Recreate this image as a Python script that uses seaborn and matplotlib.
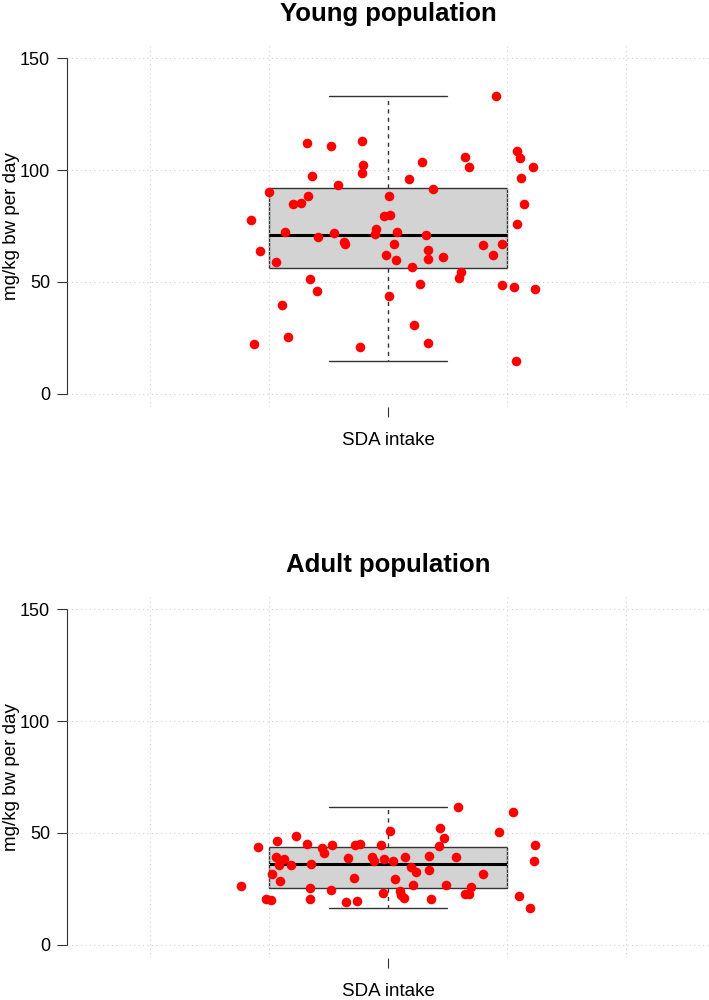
import numpy as np
import matplotlib
matplotlib.use('Agg')
import matplotlib.pyplot as plt
import seaborn as sns
from matplotlib.ticker import FixedLocator

# SDA intake (mg/kg bw per day), young population, with horizontal jitter
young_intake = [133.0, 112.1, 110.7, 113.1, 108.6, 105.6, 106.1, 103.7, 102.5, 98.7,
                101.6, 101.5, 97.2, 96.6, 96.0, 93.2, 91.5, 90.0, 88.4, 88.5,
                84.7, 85.3, 84.7, 79.3, 79.8, 77.5, 75.7, 73.7, 72.5, 71.3,
                72.0, 72.2, 71.0, 70.2, 68.0, 67.0, 67.0, 66.5, 67.1, 64.0,
                64.3, 61.9, 61.9, 60.4, 61.0, 59.8, 58.8, 56.8, 54.3, 51.8,
                51.5, 49.1, 48.4, 47.9, 46.7, 46.0, 43.5, 39.6, 30.9, 25.2,
                22.0, 22.6, 20.7, 14.4]
young_jitter = [0.181, -0.136, -0.096, -0.043, 0.217, 0.222, 0.130, 0.058, -0.042, -0.043,
                0.137, 0.244, -0.128, 0.224, 0.036, -0.084, 0.075, -0.200, -0.134, 0.001,
                -0.159, -0.146, 0.229, -0.006, 0.004, -0.231, 0.217, -0.020, -0.174, -0.022,
                -0.091, 0.015, 0.064, -0.118, -0.074, -0.072, 0.010, 0.159, 0.191, -0.215,
                0.068, 0.176, -0.004, 0.067, 0.092, 0.013, -0.188, 0.041, 0.123, 0.120,
                -0.132, 0.053, 0.192, 0.212, 0.248, -0.119, 0.002, -0.178, 0.044, -0.169,
                -0.225, 0.068, -0.047, 0.216]

# adult population
adult_intake = [61.7, 59.5, 52.1, 50.9, 50.4, 47.8, 48.8, 46.4, 43.6, 44.9,
                43.3, 44.6, 44.6, 44.8, 44.6, 43.9, 44.6, 40.9, 39.2, 38.4,
                38.8, 39.0, 37.2, 38.5, 39.2, 39.6, 39.2, 37.6, 37.5, 35.7,
                35.6, 36.0, 34.8, 32.7, 33.5, 31.6, 31.7, 29.8, 28.4, 29.3,
                26.3, 26.6, 26.6, 25.3, 24.6, 25.7, 22.9, 23.8, 22.0, 20.7,
                22.6, 22.5, 21.7, 20.5, 20.1, 20.4, 19.1, 19.6, 20.4, 16.2]
adult_jitter = [0.117, 0.211, 0.087, 0.003, 0.186, 0.094, -0.155, -0.187, -0.218, -0.137,
                -0.111, -0.094, -0.056, -0.047, -0.011, 0.085, 0.247, -0.108, -0.189, -0.175,
                -0.068, -0.027, -0.024, -0.007, 0.029, 0.069, 0.114, 0.245, 0.008, -0.184,
                -0.164, -0.130, 0.039, 0.047, 0.069, -0.195, 0.159, -0.057, -0.182, 0.011,
                -0.247, 0.042, 0.098, -0.131, -0.096, 0.140, -0.008, 0.020, 0.022, 0.027,
                0.129, 0.136, 0.221, -0.205, -0.197, -0.131, -0.070, -0.052, 0.072, 0.239]

panel_titles = ['Young population', 'Adult population']
y_ticks = [0, 50, 100, 150]
grid_x = [-0.4, -0.2, 0.0, 0.2, 0.4]

sns.set_style('white')
plt.rcParams['font.family'] = ['Liberation Sans', 'DejaVu Sans']
plt.rcParams['text.color'] = 'black'
plt.rcParams['axes.labelcolor'] = 'black'
plt.rcParams['xtick.color'] = 'black'
plt.rcParams['ytick.color'] = 'black'

fig = plt.figure(figsize=(7.09, 10), dpi=100)
ax_top = fig.add_axes([0.0945, 0.593, 0.9055, 0.362])
ax_bot = fig.add_axes([0.0945, 0.042, 0.9055, 0.362])


def draw_panel(ax, intake, jitter, title):
    sns.boxplot(y=intake, ax=ax, width=0.4, color='lightgray', saturation=1,
                linecolor='#333333', linewidth=1, whis=np.inf, fliersize=0,
                medianprops=dict(color='black', linewidth=2.2),
                whiskerprops=dict(linestyle=(0, (3, 3))))
    sns.scatterplot(x=jitter, y=intake, ax=ax, color='red', s=48,
                    linewidth=0, zorder=3)

    ax.set_xlim(-0.54, 0.54)
    ax.set_ylim(-6, 156)
    ax.set_yticks(y_ticks)
    ax.set_xticks([0])
    ax.set_xticklabels([''])
    ax.xaxis.set_minor_locator(FixedLocator(grid_x))

    ax.set_axisbelow(False)
    ax.grid(True, axis='y', which='major', color='lightgray', linestyle=(0, (1, 3)), linewidth=0.8)
    ax.grid(True, axis='x', which='minor', color='lightgray', linestyle=(0, (1, 3)), linewidth=0.8)
    ax.grid(False, axis='x', which='major')

    ax.tick_params(axis='both', which='major', left=True, bottom=True, length=7.2,
                   width=0.8, color='#333333', labelsize=13, pad=5, direction='out')
    ax.tick_params(axis='x', which='minor', length=0)

    sns.despine(ax=ax, bottom=True)
    ax.spines['left'].set_bounds(0, 150)
    ax.spines['left'].set_color('#333333')
    ax.spines['left'].set_linewidth(0.8)

    ax.set_title(title, fontsize=18.5, fontweight='bold', pad=17.5, color='black')
    ax.set_ylabel('mg/kg bw per day', fontsize=13.5)
    ax.yaxis.set_label_coords(-0.073, 0.5)
    ax.set_xlabel('SDA intake', fontsize=13.5)
    ax.xaxis.set_label_coords(0.5, -0.069)


draw_panel(ax_top, young_intake, young_jitter, panel_titles[0])
draw_panel(ax_bot, adult_intake, adult_jitter, panel_titles[1])

fig.savefig('out.png', dpi=100)
